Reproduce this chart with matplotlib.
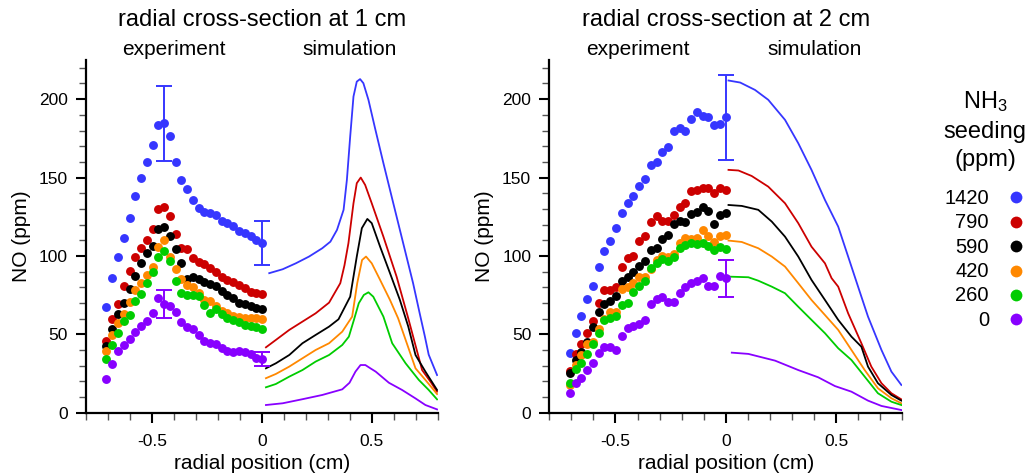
import matplotlib
matplotlib.use('Agg')
import matplotlib.pyplot as plt
from matplotlib.ticker import MultipleLocator

plt.rcParams['font.family'] = ['Liberation Sans', 'DejaVu Sans']
plt.rcParams['mathtext.fontset'] = 'custom'
plt.rcParams['mathtext.rm'] = 'Liberation Sans'
plt.rcParams['mathtext.default'] = 'regular'
plt.rcParams['axes.unicode_minus'] = False

# NH3 seeding levels (legend order) and colours
seeding = ['1420', '790', '590', '420', '260', '0']
colors = ['#3636ff', '#cc0000', '#000000', '#ff8800', '#00cc00', '#8800ff']

# measured radial positions (cm), same grid for both heights
x_exp = [-0.707, -0.681, -0.655, -0.628, -0.602, -0.576, -0.550, -0.524, -0.497, -0.471,
         -0.445, -0.419, -0.393, -0.366, -0.340, -0.314, -0.288, -0.262, -0.236, -0.209,
         -0.183, -0.157, -0.131, -0.105, -0.079, -0.052, -0.026, 0.0]

# experiment, 1 cm
exp1_1420 = [67.7, 85.7, 99.6, 111.7, 124, 138.3, 149.6, 159.6, 170.9, 183.6, 184.7, 176.6, 160.2, 148.5,
             142.6, 135.7, 130.4, 128.3, 127.2, 126.2, 122.6, 120.9, 119.4, 116.2, 114.5, 112.8, 110.2, 108.5]
exp1_790 = [45.7, 60, 69.1, 80.9, 90.4, 99.1, 104.9, 110.2, 117.2, 129.8, 130.9, 125.5, 113.8, 105.3,
            104.3, 98.5, 96.4, 94.7, 92.1, 89.6, 86.8, 84.7, 83.6, 81.5, 79.4, 77.2, 76.2, 75.7]
exp1_590 = [42.6, 53.2, 63, 70.2, 78.7, 87.2, 95.7, 101.7, 106.6, 117, 118.3, 113, 104.5, 95.3,
            85.1, 86.4, 85.1, 83.6, 82.1, 80.9, 77.7, 75.1, 73, 70.2, 69.1, 68.1, 66.6, 66]
exp1_420 = [39.4, 49.6, 57, 63, 70.9, 78.3, 83, 87.9, 92.8, 106, 110.2, 99.6, 91.7, 85.1,
            81.3, 80.4, 76.2, 71.9, 71.3, 68.1, 64.9, 63.4, 61.7, 60.9, 60.2, 60.2, 60.2, 59.6]
exp1_260 = [34, 43.2, 51.1, 58.5, 62.3, 71.5, 75.5, 83, 89.6, 99.1, 103.2, 96.8, 84.3, 76.6,
            75.1, 75.1, 74.5, 68.7, 63.8, 66, 63, 60.2, 59.1, 57.7, 56, 55.3, 54.9, 53.2]
exp1_0 = [21.3, 30.9, 39.4, 43.2, 46.8, 51.3, 55.3, 58.7, 63.4, 73.4, 69.1, 68.1, 64.5, 58.1,
          54.9, 53.2, 49.6, 45.7, 44.7, 43.8, 41.5, 39.6, 38.9, 39.6, 38.9, 37.2, 34.7, 34]

# experiment, 2 cm
exp2_1420 = [37.9, 51.1, 61.9, 72.3, 81.1, 92.8, 103.4, 109.8, 117.7, 127.7, 134, 138.3, 144.3, 148.9,
             157.7, 160.2, 166.4, 169.8, 179.4, 181.9, 179.4, 187.2, 191.5, 189.4, 188.5, 183.6, 184.3, 188.5]
exp2_790 = [26.8, 37.4, 43.6, 51.1, 58.5, 69.8, 78.3, 78.3, 80.4, 92.8, 98.5, 100, 109.6, 113,
            121.5, 125.7, 122.3, 122.3, 126.2, 130.9, 134, 141.1, 142.1, 143.6, 143.6, 140.4, 143.2, 142.1]
exp2_590 = [25.1, 33.6, 38.9, 45.3, 54.9, 64.5, 69.1, 71.5, 74.5, 84, 86.8, 90, 93.8, 96.8,
            103.8, 104.9, 110.9, 113.4, 120.2, 122.3, 121.9, 126.8, 128.3, 131.5, 128.7, 120.4, 126.2, 127.2]
exp2_420 = [17.7, 30.4, 36.8, 43.8, 45.3, 53.2, 59.6, 64, 64, 78.7, 80.4, 83, 86.8, 86.8,
            91.5, 97.4, 100, 99.1, 101.3, 108.5, 111.7, 110.9, 111.3, 116.6, 113, 109.1, 112.8, 113.4]
exp2_260 = [18.7, 27.7, 31.5, 37.2, 43.6, 51.1, 59.1, 60.2, 61.7, 68.7, 70.2, 76.8, 81.1, 84.3,
            92.1, 95.3, 97.9, 96.8, 99.6, 105.3, 107, 108.1, 107.4, 108.5, 106.4, 103.8, 105.5, 104.5]
exp2_0 = [12.3, 19.1, 22.3, 27.2, 31.5, 37.9, 41.7, 42.1, 40, 48.9, 53.8, 55.3, 56.4, 59.1,
          69.1, 72.3, 74, 70.9, 70.9, 76.6, 80, 82.6, 84, 85.7, 81.1, 81.1, 87.4, 85.7]

# error bars: (index into x_exp, half-width)
err1_1420 = [(10, 24), (27, 14)]
err1_0 = [(10, 9), (27, 4.5)]
err2_1420 = [(27, 27)]
err2_0 = [(27, 12)]

# simulation, 1 cm: (radial position cm, NO ppm)
sim1_1420 = [(0.033, 89), (0.094, 91.5), (0.154, 95.3), (0.214, 99.6), (0.274, 104.9), (0.311, 109.1),
             (0.341, 116.6), (0.371, 129.4), (0.386, 148.5), (0.401, 176.1), (0.416, 201.7), (0.431, 211.2),
             (0.446, 212.8), (0.461, 210.2), (0.484, 199.6), (0.514, 181.5), (0.552, 159.2), (0.597, 133.6),
             (0.642, 108.1), (0.687, 82.6), (0.717, 63.4), (0.740, 49), (0.758, 37), (0.796, 24)]
sim1_790 = [(0.018, 41.7), (0.063, 46.4), (0.124, 52.8), (0.184, 58.1), (0.244, 63.4), (0.305, 70.2),
            (0.356, 82.6), (0.375, 94), (0.393, 108.1), (0.416, 133.6), (0.431, 146.4), (0.449, 150),
            (0.469, 145.3), (0.499, 133.6), (0.552, 112.3), (0.612, 86.8), (0.665, 60.2), (0.728, 27.2),
            (0.766, 19.8), (0.796, 13.4)]
sim1_590 = [(0.018, 28.3), (0.063, 31.5), (0.124, 36.8), (0.184, 44.3), (0.244, 49.6), (0.305, 54.9),
            (0.348, 59.6), (0.401, 74), (0.431, 99.6), (0.454, 117.7), (0.479, 123.6), (0.499, 120.9),
            (0.537, 105.9), (0.582, 89), (0.627, 71.9), (0.665, 55), (0.698, 36.8), (0.743, 26.2),
            (0.796, 14.5)]
sim1_420 = [(0.018, 22), (0.063, 24.7), (0.124, 29.4), (0.184, 34.7), (0.244, 40), (0.305, 44.3),
            (0.365, 51.7), (0.410, 61.3), (0.433, 82.6), (0.455, 97.4), (0.473, 99.6), (0.499, 95.3),
            (0.537, 84.7), (0.582, 71.9), (0.619, 60.2), (0.698, 28.3), (0.743, 20.9), (0.796, 11.9)]
sim1_260 = [(0.018, 16.2), (0.063, 18.3), (0.124, 23), (0.184, 27.2), (0.244, 32.6), (0.305, 36.8),
            (0.365, 43.2), (0.395, 48.5), (0.418, 59.2), (0.440, 69.8), (0.463, 75.1), (0.484, 76.8),
            (0.506, 74), (0.552, 61.3), (0.592, 44.3), (0.653, 31.5), (0.713, 20.9), (0.758, 14.5),
            (0.796, 8.5)]
sim1_0 = [(0.018, 4.9), (0.094, 6), (0.184, 8.6), (0.274, 11.3), (0.365, 14.9), (0.398, 19.1),
          (0.425, 26.2), (0.448, 30.4), (0.470, 30.4), (0.493, 28.3), (0.517, 26.2), (0.577, 19.1),
          (0.637, 14.5), (0.698, 9.1), (0.743, 4.9), (0.796, 2.1)]

# simulation, 2 cm
sim2_1420 = [(0.012, 211.9), (0.065, 210.6), (0.132, 205.9), (0.192, 199.6), (0.268, 186.8), (0.328, 171.9),
             (0.388, 154.9), (0.449, 135.7), (0.509, 118.7), (0.554, 99.6), (0.599, 80.4), (0.644, 61.3),
             (0.705, 40), (0.750, 26.2), (0.795, 17.7)]
sim2_790 = [(0.012, 154.9), (0.057, 154.5), (0.117, 151), (0.192, 144.2), (0.268, 133.6), (0.328, 120.9),
            (0.388, 105.9), (0.449, 95.3), (0.479, 85.8), (0.509, 80.4), (0.554, 63.4), (0.614, 44.3),
            (0.659, 29.4), (0.705, 18.8), (0.750, 12.4), (0.795, 8.5)]
sim2_590 = [(0.012, 132.5), (0.072, 131.9), (0.147, 129.4), (0.208, 121.9), (0.268, 112.3), (0.328, 99.6),
            (0.388, 84.7), (0.449, 71.9), (0.509, 59.2), (0.569, 48.5), (0.614, 42.1), (0.644, 29.4),
            (0.689, 18.8), (0.750, 11.3), (0.795, 7.7)]
sim2_420 = [(0.012, 109.8), (0.072, 108.9), (0.147, 104.9), (0.208, 99.6), (0.268, 93.2), (0.328, 82.6),
            (0.388, 71.9), (0.449, 62.3), (0.509, 52.8), (0.569, 40), (0.629, 27.2), (0.689, 15.6),
            (0.750, 9.2), (0.795, 6)]
sim2_260 = [(0.012, 86.8), (0.102, 86.4), (0.147, 84.2), (0.208, 80.4), (0.268, 76.2), (0.328, 67.6),
            (0.388, 59.2), (0.449, 50.7), (0.509, 41.1), (0.569, 33.6), (0.629, 23), (0.689, 12.4),
            (0.750, 7), (0.795, 4.9)]
sim2_0 = [(0.027, 38.3), (0.102, 37.5), (0.223, 33.2), (0.328, 27.2), (0.418, 22.6), (0.494, 17),
          (0.569, 13.4), (0.644, 7.7), (0.705, 4.3), (0.795, 1.7)]

exp1 = [exp1_1420, exp1_790, exp1_590, exp1_420, exp1_260, exp1_0]
exp2 = [exp2_1420, exp2_790, exp2_590, exp2_420, exp2_260, exp2_0]
sim1 = [sim1_1420, sim1_790, sim1_590, sim1_420, sim1_260, sim1_0]
sim2 = [sim2_1420, sim2_790, sim2_590, sim2_420, sim2_260, sim2_0]

fig = plt.figure(figsize=(10.29, 4.76), dpi=100)
ax1 = fig.add_axes([0.0836, 0.133, 0.342, 0.741])
ax2 = fig.add_axes([0.5338, 0.133, 0.3432, 0.741])


def draw_panel(ax, exp, sim, errs, title):
    for ys, c in zip(exp, colors):
        ax.plot(x_exp, ys, 'o', color=c, markersize=6.4, markeredgewidth=0, zorder=3)
    for pts, c in zip(sim, colors):
        xs = [p[0] for p in pts]
        ys = [p[1] for p in pts]
        ax.plot(xs, ys, '-', color=c, lw=1.3, zorder=2)
    for err, series, c in errs:
        for i, e in err:
            ax.errorbar(x_exp[i], series[i], yerr=e, fmt='none', ecolor=c,
                        elinewidth=1.4, capsize=6, capthick=1.4, zorder=4)

    ax.set_xlim(-0.8, 0.8)
    ax.set_ylim(0, 225)
    ax.spines['top'].set_visible(False)
    ax.spines['right'].set_visible(False)
    ax.spines['left'].set_linewidth(1.6)
    ax.spines['bottom'].set_linewidth(1.6)
    ax.xaxis.set_major_locator(MultipleLocator(0.5))
    ax.xaxis.set_minor_locator(MultipleLocator(0.1))
    ax.yaxis.set_major_locator(MultipleLocator(50))
    ax.yaxis.set_minor_locator(MultipleLocator(10))
    ax.set_xticks([-0.5, 0, 0.5])
    ax.set_xticklabels(['-0.5', '0', '0.5'])
    ax.tick_params(which='major', direction='out', length=7, width=1.5, labelsize=12.5, pad=6)
    ax.tick_params(which='minor', direction='out', length=5, width=1, color='#555555')
    ax.tick_params(axis='x', which='major', pad=8)
    ax.set_xlabel('radial position (cm)', fontsize=15, labelpad=4)
    ax.set_ylabel('NO (ppm)', fontsize=15, labelpad=6)

    tr = ax.get_xaxis_transform()
    ax.text(0, 1.096, title, transform=tr, ha='center', va='baseline', fontsize=17)
    ax.text(-0.4, 1.014, 'experiment', transform=tr, ha='center', va='baseline', fontsize=15)
    ax.text(0.4, 1.014, 'simulation', transform=tr, ha='center', va='baseline', fontsize=15)


draw_panel(ax1, exp1, sim1, [(err1_1420, exp1_1420, colors[0]), (err1_0, exp1_0, colors[5])],
           'radial cross-section at 1 cm')
draw_panel(ax2, exp2, sim2, [(err2_1420, exp2_1420, colors[0]), (err2_0, exp2_0, colors[5])],
           'radial cross-section at 2 cm')

# legend, drawn in pixel space on an overlay
lax = fig.add_axes([0, 0, 1, 1])
lax.set_xlim(0, 1029)
lax.set_ylim(476, 0)
lax.axis('off')
lax.text(985, 101.7, 'NH$_3$', ha='center', va='center', fontsize=17)
lax.text(985, 131.7, 'seeding', ha='center', va='center', fontsize=17)
lax.text(985, 160, '(ppm)', ha='center', va='center', fontsize=17)
for i, (lab, c) in enumerate(zip(seeding, colors)):
    y = 198.3 + 24.4 * i
    lax.text(989, y, lab, ha='right', va='center', fontsize=14.5)
    lax.plot(1016, y - 1, 'o', color=c, markersize=8.5, markeredgewidth=0)

fig.savefig('out.png', dpi=100)
